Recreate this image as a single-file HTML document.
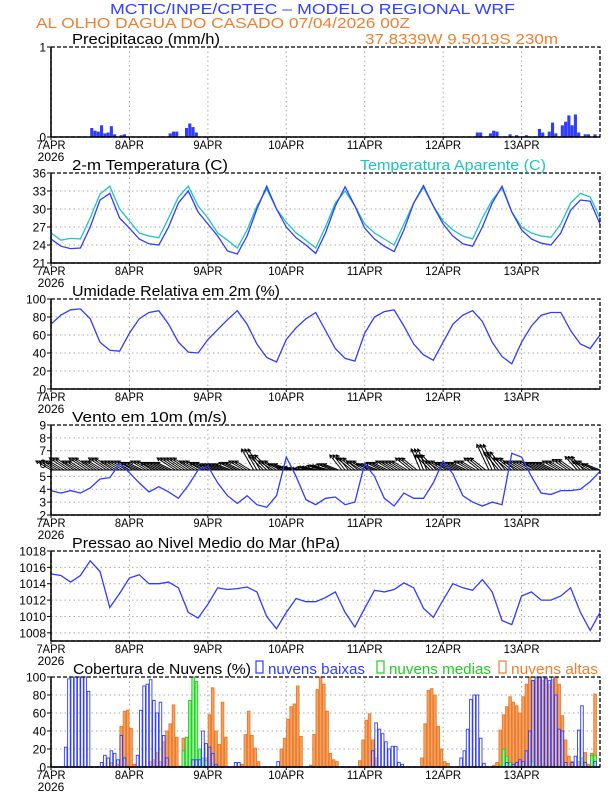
<!DOCTYPE html>
<html><head><meta charset="utf-8">
<style>
html,body{margin:0;padding:0;background:#fff;}
svg{display:block;font-family:"Liberation Sans",sans-serif;}
</style></head>
<body>
<svg id="chart" width="612" height="792" viewBox="0 0 612 792" xmlns="http://www.w3.org/2000/svg">
<text x="110" y="14" font-size="15" fill="#3340ff" textLength="405" lengthAdjust="spacingAndGlyphs">MCTIC/INPE/CPTEC – MODELO REGIONAL WRF</text>
<text x="36" y="28" font-size="15" fill="#f08030" textLength="374" lengthAdjust="spacingAndGlyphs">AL OLHO DAGUA DO CASADO   07/04/2026 00Z</text>
<text x="365" y="44" font-size="15" fill="#f08030" textLength="193" lengthAdjust="spacingAndGlyphs">37.8339W 9.5019S 230m</text>
<g id="layer"></g>
</svg>
<script>
// ---- data ----
const dayLabels = ["7APR","8APR","9APR","10APR","11APR","12APR","13APR"];
const precipHours = [12,13,14,15,16,17,18,19,21,22,36,37,38,41,42,43,44,112,130,131,134,135,136,140,142,145,149,150,152,153,154,156,157,158,159,160,161,163,164,166];
const precipValues = [0.1,0.07,0.06,0.13,0.04,0.05,0.12,0.03,0.02,0.03,0.04,0.06,0.06,0.1,0.15,0.11,0.05,0.01,0.05,0.05,0.04,0.07,0.06,0.03,0.02,0.02,0.09,0.05,0.06,0.16,0.04,0.13,0.17,0.24,0.13,0.25,0.05,0.03,0.03,0.03];
const temp2m = [25.0,23.8,23.4,23.5,27.0,31.5,32.6,28.5, 26.8,25.0,24.2,24.0,27.0,31.0,33.0,29.5, 27.5,25.5,23.0,22.5,25.5,30.0,33.8,30.0, 27.0,25.2,24.0,22.6,26.0,30.5,33.7,30.5, 26.8,25.0,23.8,22.9,26.5,31.0,33.9,30.5, 27.5,25.5,24.2,23.8,27.0,31.0,33.8,29.5, 26.5,25.0,24.3,24.0,26.0,29.8,31.5,31.3, 27.5];
const tempApparent = [26.0,24.8,25.1,25.0,28.5,32.5,33.8,30.0, 28.0,26.0,25.5,25.2,28.5,32.0,33.8,30.5, 28.5,26.0,24.8,23.5,26.5,30.5,33.3,30.0, 27.8,26.0,24.8,23.5,27.0,31.0,33.0,30.5, 27.5,26.0,25.0,24.0,27.5,31.0,33.6,30.5, 28.0,26.5,25.5,25.0,28.5,31.5,33.5,29.5, 27.0,26.0,25.5,25.3,27.5,31.0,32.6,32.0, 28.5];
const relHumidity = [72,82,88,89,78,52,43,42, 62,78,85,87,72,52,41,40, 55,66,77,87,72,50,35,30, 55,68,78,85,65,45,34,31, 62,80,86,88,70,50,38,32, 52,72,82,87,75,52,36,28, 52,70,82,85,85,65,50,45, 60];
const windSpeed = [3.9,3.7,3.9,3.7,4.1,4.8,4.9,6.0, 5.3,4.5,3.8,4.2,3.8,3.3,4.3,5.5, 5.8,4.5,3.5,2.9,3.5,2.8,2.6,3.5, 6.5,5.0,3.2,2.8,3.3,3.4,2.8,3.0, 6.0,5.0,3.3,2.7,3.7,3.3,3.3,4.5, 6.2,5.2,3.5,3.0,2.7,3.0,2.8,6.8, 6.5,5.0,3.7,3.6,3.9,3.9,4.0,4.6, 5.4];
const windU = [-5,-5,-6,-5,-6,-5,-6,-5, -5,-5,-5,-5,-5,-6,-6,-5, -5,-5,-5,-5,-5,-4,-5,-5, -5,-5,-5,-5,-5,-5,-4,-5, -5,-5,-5,-5,-5,-5,-3,-5, -5,-5,-5,-5,-5,-4,-5,-5, -5,-5,-5,-5,-5,-5,-4,-5, -5];
const windV = [3,3,4,3,4,3,4,3, 3,2.5,3,2.5,2.5,4,4,3, 2.5,2,2,2.5,3,7,5,3, 2,1,0.5,1,1.5,2,5,4, 3,2,2.5,3,3,4,7,5, 3,2.5,2.5,3,4,8.5,6,4, 3,3,2.5,2.5,3,3.5,4.5,3, 2];
const pressure = [1015.2,1015.0,1014.2,1015.0,1016.8,1015.5,1011.1,1012.8, 1014.7,1015.1,1014.0,1014.0,1014.2,1013.5,1010.5,1009.8, 1011.5,1013.5,1013.3,1013.4,1013.6,1013.0,1010.0,1008.5, 1010.5,1012.2,1011.8,1011.8,1012.3,1013.0,1010.5,1008.7, 1011.0,1013.2,1013.0,1013.3,1014.1,1013.5,1011.0,1009.9, 1012.0,1014.0,1013.5,1013.2,1014.5,1013.0,1009.5,1009.0, 1012.5,1013.0,1012.0,1012.0,1012.5,1013.5,1010.5,1008.3, 1010.5];
const cloudLow = [
0,0,0,0,22,98,100,100,100,100,100,84,0,0,0,5,13,10,18,15,8,35,10,0,
0,0,13,63,90,92,97,74,60,72,35,10,0,0,0,0,0,0,0,8,8,8,40,26,
22,15,3,0,0,0,0,0,5,5,0,0,0,0,0,0,0,0,0,0,0,6,0,0,
0,0,0,0,0,0,0,0,0,0,0,0,0,0,0,0,0,0,0,0,0,0,0,0,
0,0,18,49,42,37,28,20,23,23,5,3,0,0,0,0,0,0,0,0,0,0,0,0,
0,0,0,0,0,10,18,42,75,80,80,32,4,0,0,0,0,0,0,5,0,3,5,8,
6,18,40,96,100,100,100,98,96,100,80,42,40,5,0,5,12,41,68,5,0,0,6,0];
const cloudMid = [
0,0,0,0,0,0,0,0,0,0,0,0,0,0,0,0,0,0,0,0,0,0,0,0,
0,0,0,0,0,0,0,0,0,0,0,0,0,0,0,0,18,33,74,100,95,20,10,7,
0,0,0,0,0,0,0,0,0,0,0,0,0,0,0,0,0,0,0,0,0,0,0,0,
0,0,0,0,0,0,0,0,0,0,0,0,0,0,0,0,0,0,0,0,0,0,0,0,
0,0,0,0,0,0,0,0,0,0,0,0,0,0,0,0,0,0,0,0,0,0,0,0,
0,0,0,0,0,0,0,0,0,0,0,0,0,0,0,0,0,2,20,12,5,0,0,0,
0,0,0,6,0,0,2,0,0,0,0,0,0,0,0,0,0,0,10,0,0,13,13,0];
const cloudHigh = [
0,0,0,0,0,0,0,0,0,0,0,0,0,0,0,0,0,0,5,0,3,45,62,63,
43,3,0,0,0,0,6,8,16,6,28,40,48,69,33,1,32,0,0,0,0,0,0,10,
58,88,40,25,72,33,0,0,0,0,3,36,62,35,21,6,0,0,0,0,0,0,20,32,
53,67,70,90,34,0,0,2,36,86,100,92,62,15,8,6,0,0,0,0,0,0,7,30,
52,59,30,10,0,0,0,0,0,0,0,0,0,0,0,0,0,10,48,85,87,80,45,20,
6,4,0,0,0,0,0,0,0,0,0,0,0,0,0,2,5,41,58,67,78,72,68,60,
78,92,100,96,100,100,96,100,92,97,100,92,57,30,12,6,0,6,10,16,3,15,81,0];

// ---- layout ----
const NS="http://www.w3.org/2000/svg";
const layer=document.getElementById('layer');
const L=51,R=600,H=90,HOURS=168;
function xh(h){return L+h*(R-L)/HOURS;}
function mk(tag,attrs,parent){const e=document.createElementNS(NS,tag);for(const k in attrs)e.setAttribute(k,attrs[k]);(parent||layer).appendChild(e);return e;}
function txt(s,attrs,parent){const e=mk('text',attrs,parent);e.textContent=s;return e;}

function panel(name,top,ymin,ymax,ticks,grid){
  const g=mk('g',{});
  
  
  const y=v=>top+H-(v-ymin)/(ymax-ymin)*H;
  for(let d=1;d<7;d++){
    const l=mk('line',{x1:xh(d*24),x2:xh(d*24),y1:top,y2:top+H,stroke:'#aaa','stroke-width':1,'stroke-dasharray':'1.5,3'},g);
    
    
  }
  if(grid){ticks.forEach(t=>{if(t>ymin&&t<ymax){const l=mk('line',{x1:L,x2:R,y1:y(t),y2:y(t),stroke:'#aaa','stroke-width':1,'stroke-dasharray':'1.5,3'},g);
    
    }});}
  ticks.forEach(t=>{
    mk('line',{x1:L-4,x2:L,y1:y(t),y2:y(t),stroke:'#000','stroke-width':1},g);
    const tl=txt(String(t),{x:L-5,y:y(t)+4.5,'font-size':12,'text-anchor':'end',fill:'#000'},g);
    
    
  });
  dayLabels.forEach((s,d)=>{
    mk('line',{x1:xh(d*24),x2:xh(d*24),y1:top+H,y2:top+H+3,stroke:'#000'},g);
    const tl=txt(s,{x:xh(d*24),y:top+H+12,'font-size':12,'text-anchor':'middle',fill:'#000',textLength:s.length>4?36:29,lengthAdjust:'spacingAndGlyphs'},g);
    
    
  });
  const yr=txt('2026',{x:L,y:top+H+24,'font-size':12,'text-anchor':'middle',fill:'#000'},g);
  
  
  return {g,y,top};
}
function frame(p){
  mk('rect',{x:L,y:p.top,width:R-L,height:H,fill:'none',stroke:'#000','stroke-width':1.3,'stroke-dasharray':'4,2'},p.g);
  mk('line',{x1:L,x2:L,y1:p.top,y2:p.top+H,stroke:'#000','stroke-width':1.5},p.g);
  mk('line',{x1:L,x2:R,y1:p.top+H,y2:p.top+H,stroke:'#000','stroke-width':1.5},p.g);
}
function title(s,x,top,color,len,name){
  const t=txt(s,{x:x,y:top-3,'font-size':15,fill:color,textLength:len,lengthAdjust:'spacingAndGlyphs'});
  
  
  return t;
}
function line(p,arr,color,name){
  const pts=arr.map((v,i)=>xh(i*3).toFixed(1)+','+p.y(v).toFixed(1)).join(' ');
  const pl=mk('polyline',{points:pts,fill:'none',stroke:color,'stroke-width':1.3},p.g);
  
  
}
const BLUE='#2f3cff';

// precip
const p1=panel('precipitation',47,0,1,[0,1],false);
precipHours.forEach((h,i)=>{
  const b=mk('rect',{x:xh(h),y:p1.y(precipValues[i]),width:3.1,height:p1.y(0)-p1.y(precipValues[i]),fill:BLUE},p1.g);
  
  
});
frame(p1);
title('Precipitacao (mm/h)',72,47,'#000',148,'precipitation-title');

// temperature
const p2=panel('temperature',173,21,36,[21,24,27,30,33,36],true);
line(p2,tempApparent,'#1fc4bd','apparent-temperature-line');
line(p2,temp2m,BLUE,'temperature-line');
frame(p2);
title('2-m Temperatura (C)',72,173,'#000',156,'temperature-title');
title('Temperatura Aparente (C)',360,173,'#1fc4bd',186,'apparent-temperature-legend');

// RH
const p3=panel('humidity',299,0,100,[0,20,40,60,80,100],true);
line(p3,relHumidity,BLUE,'humidity-line');
frame(p3);
title('Umidade Relativa em 2m (%)',72,299,'#000',208,'humidity-title');

// wind
const p4=panel('wind',425,2,9,[2,3,4,5,6,7,8,9],true);
const base=p4.y(5.5);
mk('line',{x1:L,x2:R,y1:base,y2:base,stroke:'#000','stroke-width':1},p4.g);
windU.forEach((u,i)=>{
  [-1,0,1].forEach(off=>{
    const hh=i*3+off;
    if(hh<0||hh>HOURS)return;
    const x0=xh(hh), x1=x0+u*3, y1=base-windV[i]*3;
    const a=mk('g',{},p4.g);
    
    
    mk('line',{x1:x0,y1:base,x2:x1,y2:y1,stroke:'#000','stroke-width':1},a);
    const ang=Math.atan2(y1-base,x1-x0);
    const hx1=x1-3.5*Math.cos(ang-0.5),hy1=y1-3.5*Math.sin(ang-0.5);
    const hx2=x1-3.5*Math.cos(ang+0.5),hy2=y1-3.5*Math.sin(ang+0.5);
    mk('polyline',{points:`${hx1},${hy1} ${x1},${y1} ${hx2},${hy2}`,fill:'none',stroke:'#000','stroke-width':1},a);
  });
});
line(p4,windSpeed,BLUE,'wind-speed-line');
frame(p4);
title('Vento em 10m (m/s)',72,425,'#000',155,'wind-title');

// pressure
const p5=panel('pressure',551,1007,1018,[1008,1010,1012,1014,1016,1018],true);
line(p5,pressure,BLUE,'pressure-line');
frame(p5);
title('Pressao ao Nivel Medio do Mar (hPa)',72,551,'#000',268,'pressure-title');

// clouds
const p6=panel('clouds',677,0,100,[0,20,40,60,80,100],true);
function bars(arr,fill,stroke,name){
  arr.forEach((v,h)=>{
    if(v<=0)return;
    const b=mk('rect',{x:xh(h)+0.3,y:p6.y(v),width:2.6,height:p6.y(0)-p6.y(v),fill:fill,stroke:stroke,'stroke-width':0.9},p6.g);
    
    
  });
}
bars(cloudHigh,'#f7a25e','#e8782a','high-cloud-bar');
bars(cloudMid,'#9af09a','#1ed01e','mid-cloud-bar');
bars(cloudLow,'rgba(255,255,255,0.25)','#2f3cff','low-cloud-bar');
mk('line',{x1:L,x2:R,y1:p6.y(0),y2:p6.y(0),stroke:BLUE,'stroke-width':1.5},p6.g);
frame(p6);
title('Cobertura de Nuvens (%)',73,677,'#000',178,'clouds-title');
function legend(x,color,label,len,name){
  const g=mk('g',{});
  
  
  mk('rect',{x:x,y:661,width:7,height:12,fill:'none',stroke:color,'stroke-width':1.2},g);
  txt(label,{x:x+12,y:674,'font-size':15,fill:color,textLength:len,lengthAdjust:'spacingAndGlyphs'},g);
}
legend(256,'#2f3cff','nuvens baixas',97,'legend-low-clouds');
legend(377,'#22cc22','nuvens medias',102,'legend-mid-clouds');
legend(499,'#f08030','nuvens altas',87,'legend-high-clouds');
</script>
</body></html>
